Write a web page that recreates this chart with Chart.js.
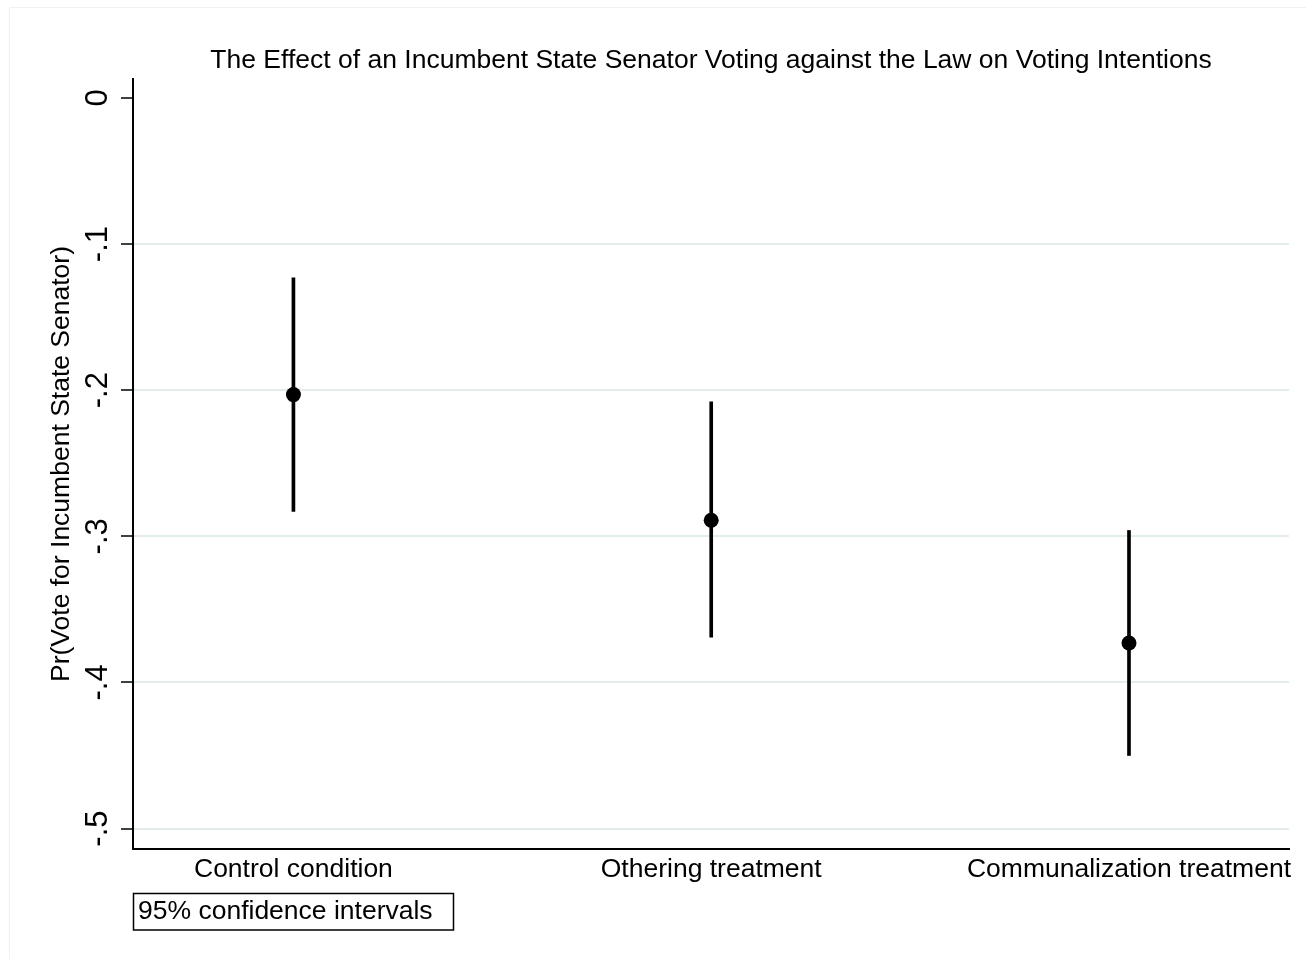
<!DOCTYPE html>
<html><head><meta charset="utf-8">
<script src="https://cdn.jsdelivr.net/npm/chart.js@4/dist/chart.umd.min.js"></script>
<style>html,body{margin:0;padding:0;background:#fff;} canvas{display:block;}</style>
</head><body>
<canvas id="c" width="1306" height="959"></canvas>
<script>
const categories = ["Control condition", "Othering treatment", "Communalization treatment"];
const estimates = [-0.203, -0.289, -0.373];
const ciLower = [-0.283, -0.369, -0.450];
const ciUpper = [-0.123, -0.208, -0.296];
const yTicks = [0, -0.1, -0.2, -0.3, -0.4, -0.5];
const yTickLabels = ["0", "-.1", "-.2", "-.3", "-.4", "-.5"];
const titleText = "The Effect of an Incumbent State Senator Voting against the Law on Voting Intentions";
const yAxisTitle = "Pr(Vote for Incumbent State Senator)";
const noteText = "95% confidence intervals";

const FONT = "'Liberation Sans', Arial, Helvetica, sans-serif";

const extras = {
  id: 'extras',
  beforeDraw(chart) {
    const ctx = chart.ctx;
    ctx.save();
    ctx.fillStyle = '#fff';
    ctx.fillRect(0, 0, chart.width, chart.height);
    ctx.strokeStyle = '#eef2f2';
    ctx.lineWidth = 1;
    ctx.beginPath();
    ctx.moveTo(9.5, chart.height); ctx.lineTo(9.5, 7.5); ctx.lineTo(chart.width, 7.5);
    ctx.stroke();
    ctx.restore();
  },
  afterDraw(chart) {
    const ctx = chart.ctx;
    const area = chart.chartArea;
    ctx.save();
    ctx.fillStyle = '#000';
    ctx.font = '26.5px ' + FONT;
    ctx.textAlign = 'center';
    ctx.textBaseline = 'alphabetic';
    ctx.fillText(titleText, (area.left + area.right) / 2, 68);
    // note box
    ctx.textAlign = 'left';
    ctx.fillText(noteText, area.left + 5, 919);
    ctx.strokeStyle = '#000';
    ctx.lineWidth = 1.5;
    ctx.strokeRect(area.left + 0.5, 893.5, 320, 36.5);
    ctx.restore();
  }
};

new Chart(document.getElementById('c'), {
  type: 'bar',
  data: {
    datasets: [
      {
        type: 'line',
        label: 'Estimate',
        data: estimates.map((v, i) => ({x: i, y: v})),
        showLine: false,
        pointRadius: 7.5,
        pointBackgroundColor: '#000',
        pointBorderColor: '#000',
        pointBorderWidth: 0,
        borderColor: '#000'
      },
      {
        type: 'bar',
        label: '95% CI',
        data: ciLower.map((lo, i) => ({x: i, y: [lo, ciUpper[i]]})),
        backgroundColor: '#000',
        borderWidth: 0,
        barThickness: 3,
        grouped: false
      }
    ]
  },
  plugins: [extras],
  options: {
    responsive: false,
    animation: false,
    events: [],
    layout: {padding: {top: 79, right: 17, bottom: 0, left: 0}},
    plugins: {legend: {display: false}, title: {display: false}, tooltip: {enabled: false}},
    scales: {
      x: {
        type: 'linear',
        offset: false,
        min: -0.384,
        max: 2.383,
        afterBuildTicks: (s) => { s.ticks = categories.map((_, i) => ({value: i})); },
        afterFit: (s) => { s.height = 110; },
        ticks: {
          callback: (v) => categories[v] ?? '',
          color: '#000',
          font: {family: FONT, size: 26.5},
          padding: 5,
          maxRotation: 0,
          minRotation: 0,
          autoSkip: false
        },
        grid: {display: false, drawTicks: false, offset: false},
        border: {display: true, color: '#000', width: 2}
      },
      y: {
        type: 'linear',
        min: -0.514,
        max: 0.013,
        afterBuildTicks: (s) => { s.ticks = yTicks.map(v => ({value: v})); },
        afterFit: (s) => { s.width = 133; },
        ticks: {
          callback: (v) => { const i = yTicks.findIndex(t => Math.abs(t - v) < 1e-9); return i >= 0 ? yTickLabels[i] : ''; },
          color: '#000',
          font: {family: FONT, size: 31},
          minRotation: 90,
          maxRotation: 90,
          crossAlign: 'center',
          padding: 4,
          autoSkip: false
        },
        grid: {
          color: (c) => (c.tick && Math.abs(c.tick.value) < 1e-9) ? 'rgba(0,0,0,0)' : '#e3eded',
          lineWidth: 2,
          tickColor: '#000',
          tickLength: 12,
          tickWidth: 1.5,
          drawTicks: true
        },
        border: {display: true, color: '#000', width: 2},
        title: {
          display: true,
          text: yAxisTitle,
          color: '#000',
          font: {family: FONT, size: 26.5},
          padding: {top: 46, bottom: 0}
        }
      }
    }
  }
});
</script>
</body></html>
